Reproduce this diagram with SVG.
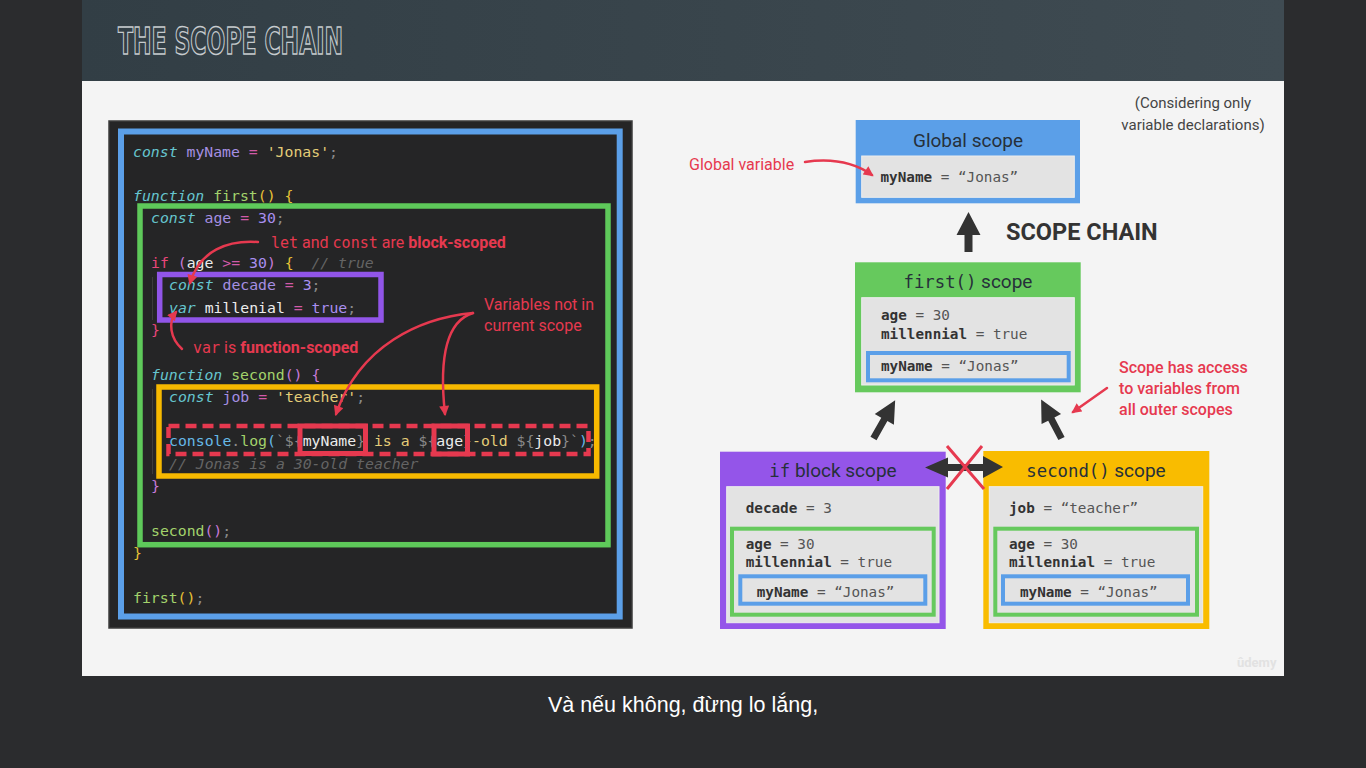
<svg xmlns="http://www.w3.org/2000/svg" xmlns:xlink="http://www.w3.org/1999/xlink" width="1366" height="768" viewBox="0 0 1366 768">
  <defs>
    <linearGradient id="hdr" x1="0" y1="0" x2="1" y2="0">
      <stop offset="0" stop-color="#323e45"/>
      <stop offset="1" stop-color="#3f4b52"/>
    </linearGradient>
    <marker id="ra" viewBox="0 0 10 10" refX="8" refY="5" markerWidth="11" markerHeight="10" markerUnits="userSpaceOnUse" orient="auto">
      <path d="M0,0 L10,5 L0,10 z" fill="#e6394f"/>
    </marker>
    <path id="thick-up" d="M-4,0 L4,0 L4,-17 L12,-17 L0,-40 L-12,-17 L-4,-17 Z"/>
    <path id="thick-diag" d="M-3.5,0 L3.5,0 L3.5,-22 L11,-22 L0,-44 L-11,-22 L-3.5,-22 Z"/>
    <style>
      .code { font-family: "DejaVu Sans Mono", "Liberation Mono", monospace; font-size: 14.8px; fill: #d8d8d8; white-space: pre; }
      .kw { fill: #66c5cf; font-style: italic; }
      .nm { fill: #a58fe2; }
      .op { fill: #d25aa8; }
      .st { fill: #e4cd78; }
      .nu { fill: #a98ff0; }
      .pn { fill: #8a8a8a; }
      .fn { fill: #a3d36c; }
      .py { fill: #e8c235; }
      .pp { fill: #c77ad8; }
      .pk { fill: #e9467a; }
      .wh { fill: #ececec; }
      .cm { fill: #646464; font-style: italic; }
      .cy { fill: #66b9e6; }
      .note { font-family: Roboto, "Liberation Sans", sans-serif; font-size: 16px; fill: #e6394f; }
      .note-mono { font-family: "DejaVu Sans Mono", "Liberation Mono", monospace; font-size: 15px; }
      .b { font-weight: bold; }
      .red-line { fill: none; stroke: #e6394f; stroke-width: 2.5; stroke-linecap: round; }
      .scope-title { font-family: Roboto, "Liberation Sans", sans-serif; font-size: 19px; fill: #26303a; }
      .scope-mono { font-family: "DejaVu Sans Mono", "Liberation Mono", monospace; font-size: 17.3px; }
      .inner { fill: #e3e3e3; stroke: #eeeeee; stroke-width: 1; }
      .var { font-family: "DejaVu Sans Mono", "Liberation Mono", monospace; font-size: 14.3px; fill: #555555; white-space: pre; }
      .var .k { font-weight: bold; fill: #333333; }
      .ring-green { fill: #e3e3e3; stroke: #66c95d; stroke-width: 4; }
      .ring-blue { fill: #e3e3e3; stroke: #5b9fe8; stroke-width: 4; }
      .black-arrow { fill: #333333; }
    </style>
  </defs>

  <!-- page and slide backgrounds -->
  <rect x="0" y="0" width="1366" height="768" fill="#2b2c2e"/>
  <rect x="82" y="0" width="1202" height="676" fill="#f4f4f4"/>
  <rect x="82" y="0" width="1202" height="81" fill="url(#hdr)"/>
  <text x="118" y="54" font-family="DejaVu Sans Condensed, DejaVu Sans, sans-serif" font-weight="bold" font-size="37" textLength="225" lengthAdjust="spacingAndGlyphs" fill="none" stroke="#c6cbce" stroke-width="1.4">THE SCOPE CHAIN</text>

  <!-- code panel -->
  <g id="code-panel">
    <rect x="109" y="121" width="523" height="507" fill="#252526" stroke="#3c3c3c" stroke-width="1.5"/>
    <line x1="152.5" y1="277" x2="152.5" y2="320" stroke="#3d3d3d" stroke-width="1"/>
    <line x1="152.5" y1="389" x2="152.5" y2="474" stroke="#3d3d3d" stroke-width="1"/>

    <g class="code" xml:space="preserve">
      <text x="133" y="156.5"><tspan class="kw">const</tspan> <tspan class="nm">myName</tspan> <tspan class="op">=</tspan> <tspan class="st">'Jonas'</tspan><tspan class="pn">;</tspan></text>
      <text x="133" y="201.1"><tspan class="kw">function</tspan> <tspan class="fn">first</tspan><tspan class="py">() {</tspan></text>
      <text x="151" y="223.4"><tspan class="kw">const</tspan> <tspan class="nm">age</tspan> <tspan class="op">=</tspan> <tspan class="nu">30</tspan><tspan class="pn">;</tspan></text>
      <text x="151" y="268"><tspan class="pk">if</tspan> <tspan class="pp">(</tspan><tspan class="wh">age</tspan> <tspan class="op">&gt;=</tspan> <tspan class="nu">30</tspan><tspan class="pp">)</tspan> <tspan class="py">{</tspan><tspan x="311.4" class="cm">// true</tspan></text>
      <text x="169" y="290.3"><tspan class="kw">const</tspan> <tspan class="nm">decade</tspan> <tspan class="op">=</tspan> <tspan class="nu">3</tspan><tspan class="pn">;</tspan></text>
      <text x="169" y="312.6"><tspan class="kw">var</tspan> <tspan class="wh">millenial</tspan> <tspan class="op">=</tspan> <tspan class="nu">true</tspan><tspan class="pn">;</tspan></text>
      <text x="151" y="334.9"><tspan class="pk">}</tspan></text>
      <text x="151" y="379.5"><tspan class="kw">function</tspan> <tspan class="fn">second</tspan><tspan class="pp">() {</tspan></text>
      <text x="169" y="401.8"><tspan class="kw">const</tspan> <tspan class="nm">job</tspan> <tspan class="op">=</tspan> <tspan class="st">'teacher'</tspan><tspan class="pn">;</tspan></text>
      <text x="169" y="446.4"><tspan class="cy">console</tspan><tspan class="pn">.</tspan><tspan class="fn">log</tspan><tspan class="cy">(</tspan><tspan class="pn">`${</tspan><tspan class="wh">myName</tspan><tspan class="pn">}</tspan><tspan class="st"> is a </tspan><tspan class="pn">${</tspan><tspan class="wh">age</tspan><tspan class="pn">}</tspan><tspan class="st">-old </tspan><tspan class="pn">${</tspan><tspan class="wh">job</tspan><tspan class="pn">}`</tspan><tspan class="cy">)</tspan><tspan class="pn">;</tspan></text>
      <text x="169" y="468.7"><tspan class="cm">// Jonas is a 30-old teacher</tspan></text>
      <text x="151" y="491"><tspan class="pp">}</tspan></text>
      <text x="151" y="535.6"><tspan class="fn">second</tspan><tspan class="pp">()</tspan><tspan class="pn">;</tspan></text>
      <text x="133" y="557.9"><tspan class="py">}</tspan></text>
      <text x="133" y="602.5"><tspan class="fn">first</tspan><tspan class="py">()</tspan><tspan class="pn">;</tspan></text>
    </g>

    <!-- scope outlines inside the code -->
    <rect x="121" y="131.5" width="498.7" height="485" fill="none" stroke="#5b9fe8" stroke-width="6"/>
    <rect x="140" y="206" width="468" height="338.7" fill="none" stroke="#5ec95a" stroke-width="5.5"/>
    <rect x="159.7" y="274.5" width="221.3" height="45.5" fill="none" stroke="#9155e8" stroke-width="5.5"/>
    <rect x="159" y="387" width="437.7" height="89" fill="none" stroke="#f7b900" stroke-width="5.5"/>
    <rect x="168.5" y="426" width="420" height="28" fill="none" stroke="#e6394f" stroke-width="4.5" stroke-dasharray="11 6"/>
    <rect x="300" y="426" width="65.5" height="27.5" fill="none" stroke="#e6394f" stroke-width="5"/>
    <rect x="434" y="426" width="33.5" height="28" fill="none" stroke="#e6394f" stroke-width="5"/>

    <!-- annotations -->
    <text class="note" x="271" y="248" xml:space="preserve"><tspan class="note-mono">let</tspan> and <tspan class="note-mono">const</tspan> are <tspan class="b">block-scoped</tspan></text>
    <text class="note" x="193" y="353" xml:space="preserve"><tspan class="note-mono">var</tspan> is <tspan class="b">function-scoped</tspan></text>
    <text class="note" x="484" y="310">Variables not in</text>
    <text class="note" x="484" y="331">current scope</text>
  </g>

  <!-- scope boxes -->
  <g id="global-scope">
    <rect x="855.7" y="120" width="224.3" height="83.3" fill="#5b9fe8"/>
    <rect class="inner" x="861.7" y="156" width="212.6" height="41.3"/>
    <text class="scope-title" x="968" y="146.5" text-anchor="middle">Global scope</text>
    <text class="var" x="880.5" y="182"><tspan class="k">myName</tspan> = “Jonas”</text>
  </g>

  <g id="first-scope">
    <rect x="855" y="262.3" width="225.7" height="130" fill="#66c95d"/>
    <rect class="inner" x="861.7" y="297.7" width="212.6" height="87.3"/>
    <text class="scope-title" x="968" y="288" text-anchor="middle" xml:space="preserve"><tspan class="scope-mono">first()</tspan> scope</text>
    <text class="var" x="881" y="320"><tspan class="k">age</tspan> = 30</text>
    <text class="var" x="881" y="339"><tspan class="k">millennial</tspan> = true</text>
    <rect class="ring-blue" x="868" y="353" width="200.7" height="27.3"/>
    <text class="var" x="881" y="371"><tspan class="k">myName</tspan> = “Jonas”</text>
  </g>

  <g id="if-scope">
    <rect x="720" y="451.7" width="225.7" height="177.3" fill="#9455e9"/>
    <rect class="inner" x="726.7" y="486.7" width="212.3" height="136"/>
    <text class="scope-title" x="833" y="477" text-anchor="middle" xml:space="preserve"><tspan class="scope-mono">if</tspan> block scope</text>
    <text class="var" x="745.7" y="512.5"><tspan class="k">decade</tspan> = 3</text>
    <rect class="ring-green" x="732" y="528.7" width="201.7" height="86"/>
    <text class="var" x="745.7" y="549"><tspan class="k">age</tspan> = 30</text>
    <text class="var" x="745.7" y="566.5"><tspan class="k">millennial</tspan> = true</text>
    <rect class="ring-blue" x="740.3" y="576.3" width="185" height="27.4"/>
    <text class="var" x="756.7" y="597"><tspan class="k">myName</tspan> = “Jonas”</text>
  </g>

  <g id="second-scope">
    <rect x="983.3" y="451" width="226" height="178" fill="#f9bc00"/>
    <rect class="inner" x="989.3" y="486.7" width="213.4" height="136"/>
    <text class="scope-title" x="1096" y="477" text-anchor="middle" xml:space="preserve"><tspan class="scope-mono">second()</tspan> scope</text>
    <text class="var" x="1009" y="512.5"><tspan class="k">job</tspan> = “teacher”</text>
    <rect class="ring-green" x="995.3" y="528.7" width="201.7" height="86"/>
    <text class="var" x="1009" y="549"><tspan class="k">age</tspan> = 30</text>
    <text class="var" x="1009" y="566.5"><tspan class="k">millennial</tspan> = true</text>
    <rect class="ring-blue" x="1003" y="576.3" width="185" height="27.4"/>
    <text class="var" x="1020" y="597"><tspan class="k">myName</tspan> = “Jonas”</text>
  </g>

  <!-- labels on the right -->
  <g id="labels">
    <text x="1193" y="108" text-anchor="middle" font-family="Roboto, Liberation Sans, sans-serif" font-size="15" fill="#444444">(Considering only</text>
    <text x="1193" y="130" text-anchor="middle" font-family="Roboto, Liberation Sans, sans-serif" font-size="15" fill="#444444">variable declarations)</text>
    <text x="1006" y="240" font-family="Roboto, Liberation Sans, sans-serif" font-weight="bold" font-size="23.5" fill="#333333">SCOPE CHAIN</text>
    <text class="note" x="689" y="169.5" font-size="16.5">Global variable</text>
    <text class="note" x="1119" y="373" font-weight="500">Scope has access</text>
    <text class="note" x="1119" y="394" font-weight="500">to variables from</text>
    <text class="note" x="1119" y="415" font-weight="500">all outer scopes</text>
  </g>

  <!-- connectors -->
  <g id="connectors">
    <path class="red-line" d="M258,242 C228,240 200,250 190,283" marker-end="url(#ra)"/>
    <path class="red-line" d="M182,349 C170,338 168,322 176,312" marker-end="url(#ra)"/>
    <path class="red-line" d="M473,313 C420,318 360,345 336,414" marker-end="url(#ra)"/>
    <path class="red-line" d="M473,313 C450,320 438,350 445,414" marker-end="url(#ra)"/>
    <path class="red-line" d="M805,162 Q845,156 872,175" marker-end="url(#ra)"/>
    <path class="red-line" d="M1107,388 L1073,412" marker-end="url(#ra)"/>

    <use xlink:href="#thick-up" class="black-arrow" transform="translate(968.5,252)"/>
    <use xlink:href="#thick-diag" class="black-arrow" transform="translate(873.5,438.5) rotate(29.5)"/>
    <use xlink:href="#thick-diag" class="black-arrow" transform="translate(1061.5,438.5) rotate(-27.6)"/>

    <path class="black-arrow" d="M925,467.5 L948,457.5 L948,464 L983,464 L983,456 L1003,467 L983,478 L983,471 L948,471 L948,477.5 Z"/>
    <path d="M947,446 L984,489 M982,446 L947,489" fill="none" stroke="#e6394f" stroke-width="3"/>
  </g>

  <text x="1237" y="667" font-family="Roboto, Liberation Sans, sans-serif" font-size="13" font-weight="bold" fill="#e2e2e2">ûdemy</text>

  <!-- caption -->
  <text x="683" y="712" text-anchor="middle" font-family="Liberation Sans, Arial, sans-serif" font-size="21.5" fill="#ffffff">Và nếu không, đừng lo lắng,</text>
</svg>
